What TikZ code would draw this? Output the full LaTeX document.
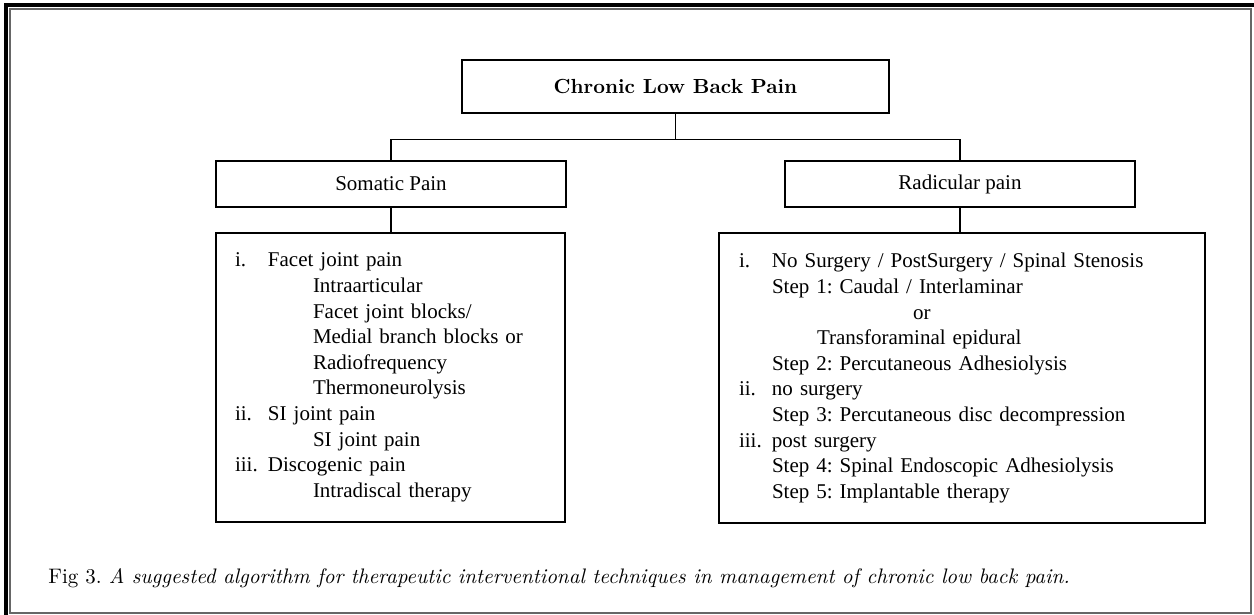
\documentclass[tikz,border=0pt]{standalone}
\usepackage{fontspec}
\newfontfamily\bodyfont{Liberation Serif}
\newcommand{\sub}{\hspace*{22.5pt}}
\newcommand{\lab}[1]{\makebox[16.5pt][l]{#1}}
\frenchspacing

\begin{document}
\begin{tikzpicture}[x=0.5pt,y=-0.5pt,
  box/.style={draw=black,line width=1.3pt,inner sep=0pt},
  link/.style={draw=black,line width=0.7pt},
  body/.style={font=\bodyfont\fontsize{10.5}{12.8}\selectfont}]
  \useasboundingbox (0,0) rectangle (1254,615);
  \draw[line width=1.6pt] (6,615) -- (6,5) -- (1254,5);
  \draw[line width=0.6pt,draw=black!60] (10,9) rectangle (1251,613);
  \node[box,minimum width=213.5pt,minimum height=26.5pt] (clbp) at (675.5,86.5)
     {\fontsize{10.2}{12}\selectfont\bfseries Chronic Low Back Pain};
  \node[box,body,minimum width=175pt,minimum height=23pt] (som) at (391,184) {Somatic Pain};
  \node[box,body,minimum width=175pt,minimum height=23pt] (rad) at (960,184) {Radicular pain};
  \node[box,body,minimum width=174.5pt,minimum height=144.5pt,inner xsep=9.5pt,
     text width=155.5pt,align=left] (somlist) at (390.5,377.5)
     {\lab{i.}Facet joint pain\\
      \lab{}\sub Intraarticular\\
      \lab{}\sub Facet joint blocks/\\
      \lab{}\sub Medial branch blocks or\\
      \lab{}\sub Radiofrequency\\
      \lab{}\sub Thermoneurolysis\\
      \lab{ii.}SI joint pain\\
      \lab{}\sub SI joint pain\\
      \lab{iii.}Discogenic pain\\
      \lab{}\sub Intradiscal therapy};
  \node[box,body,minimum width=243pt,minimum height=145pt,inner xsep=10pt,
     text width=223pt,align=left] (radlist) at (962,378)
     {\lab{i.}No Surgery / PostSurgery / Spinal Stenosis\\
      \lab{}Step 1: Caudal / Interlaminar\\
      \lab{}\hspace*{70.5pt}or\\
      \lab{}\sub Transforaminal epidural\\
      \lab{}Step 2: Percutaneous Adhesiolysis\\
      \lab{ii.}no surgery\\
      \lab{}Step 3: Percutaneous disc decompression\\
      \lab{iii.}post surgery\\
      \lab{}Step 4: Spinal Endoscopic Adhesiolysis\\
      \lab{}Step 5: Implantable therapy};
  \draw[link] (clbp.south) -- ++(0,25) coordinate (split);
  \draw[link] (som.north) |- (split) -| (rad.north);
  \draw[link] (som.south) -- (som.south |- somlist.north);
  \draw[link] (rad.south) -- (rad.south |- radlist.north);
  \node[anchor=base west,inner sep=0pt] (cap) at (48,583)
     {\fontsize{10.5}{12}\selectfont Fig 3. \textit{A suggested algorithm for therapeutic
      interventional techniques in management of chronic low back pain.}};
\end{tikzpicture}
\end{document}
